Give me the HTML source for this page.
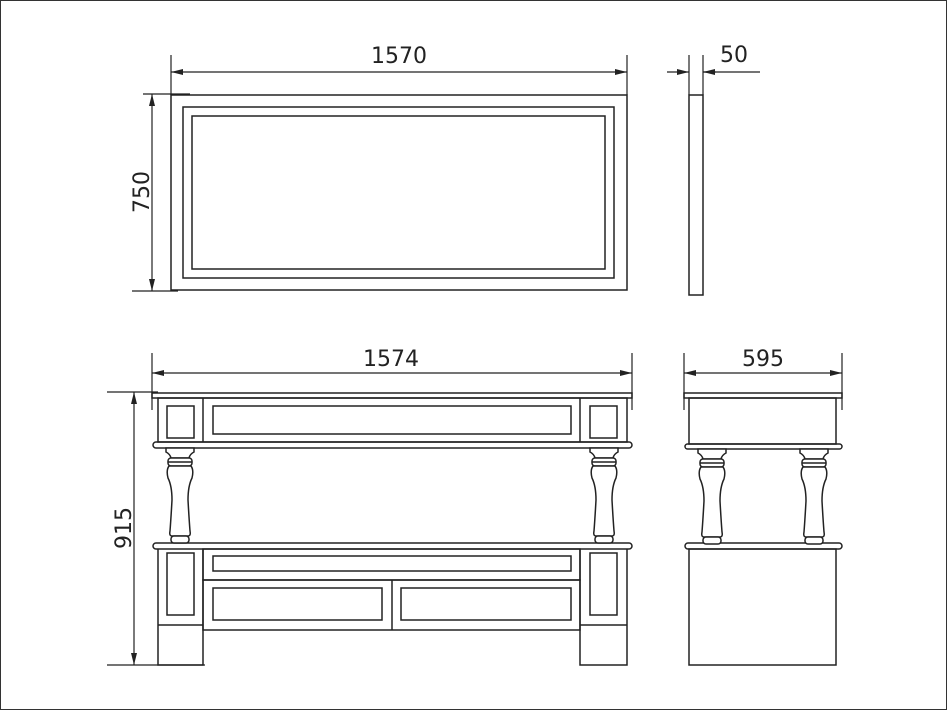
<!DOCTYPE html>
<html><head><meta charset="utf-8"><style>
html,body{margin:0;padding:0;background:#fff}
svg{display:block}
text{font-family:"DejaVu Sans","Liberation Sans",sans-serif;font-size:22px;fill:#222}
</style></head><body>
<svg width="947" height="710" viewBox="0 0 947 710" xmlns="http://www.w3.org/2000/svg">
<defs>
<marker id="a" markerWidth="12" markerHeight="6" refX="12" refY="3" orient="auto-start-reverse" markerUnits="userSpaceOnUse">
<path d="M0,0 L12,3 L0,6 Z" fill="#222"/></marker>
<g id="leg" fill="#fff" stroke="#222" stroke-width="1.5">
<path d="M-14,0 H14 V4 Q10,6 9,10 H-9 Q-10,6 -14,4 Z"/>
<rect x="-12" y="10" width="24" height="8" rx="3"/>
<line x1="-12" y1="14" x2="12" y2="14"/>
<path d="M-11,18 H11 Q14,22 12,30 Q8,38 8,52 Q9,70 10,83 Q11,88 8,88 H-8 Q-11,88 -10,83 Q-9,70 -8,52 Q-8,38 -12,30 Q-14,22 -11,18 Z"/>
<rect x="-9" y="88" width="18" height="7" rx="3"/>
</g>
</defs>
<rect x="0.5" y="0.5" width="946" height="709" fill="none" stroke="#333"/>
<g fill="none" stroke="#222" stroke-width="1.5">
<rect x="171" y="95" width="456" height="195"/>
<rect x="183" y="107" width="431" height="171"/>
<rect x="192" y="116" width="413" height="153"/>
<rect x="689" y="95" width="14" height="200"/>
<rect x="152" y="393" width="480" height="5"/>
<rect x="158" y="398" width="469" height="44"/>
<line x1="203" y1="398" x2="203" y2="442"/><line x1="580" y1="398" x2="580" y2="442"/>
<rect x="167" y="406" width="27" height="32"/>
<rect x="213" y="406" width="358" height="28"/>
<rect x="590" y="406" width="27" height="32"/>
<rect x="153" y="442" width="479" height="6" rx="3"/>
<rect x="153" y="543" width="479" height="6" rx="3"/>
<path d="M158,549 V665 H203 V549 M580,549 V665 H627 V549"/>
<line x1="158" y1="625" x2="203" y2="625"/><line x1="580" y1="625" x2="627" y2="625"/>
<rect x="167" y="553" width="27" height="62"/>
<rect x="590" y="553" width="27" height="62"/>
<rect x="203" y="549" width="377" height="31"/>
<rect x="213" y="556" width="358" height="15"/>
<rect x="203" y="580" width="377" height="50"/>
<line x1="392" y1="580" x2="392" y2="630"/>
<rect x="213" y="588" width="169" height="32"/>
<rect x="401" y="588" width="170" height="32"/>
<rect x="684" y="393" width="158" height="5"/>
<rect x="689" y="398" width="147" height="46"/>
<rect x="685" y="444" width="157" height="5" rx="2.5"/>
<rect x="685" y="543" width="157" height="6" rx="3"/>
<rect x="689" y="549" width="147" height="116"/>
</g>
<use href="#leg" x="180" y="448"/>
<use href="#leg" x="604" y="448"/>
<use href="#leg" x="712" y="449"/>
<use href="#leg" x="814" y="449"/>
<g stroke="#222" stroke-width="1.2" fill="none">
<line x1="171" y1="72" x2="627" y2="72" marker-start="url(#a)" marker-end="url(#a)"/>
<line x1="171" y1="55" x2="171" y2="95"/><line x1="627" y1="55" x2="627" y2="95"/>
<line x1="152" y1="94" x2="152" y2="291" marker-start="url(#a)" marker-end="url(#a)"/>
<line x1="143" y1="94" x2="190" y2="94"/><line x1="132" y1="291" x2="178" y2="291"/>
<line x1="667" y1="72" x2="689" y2="72" marker-end="url(#a)"/>
<line x1="703" y1="72" x2="760" y2="72"/>
<line x1="716" y1="72" x2="703" y2="72" marker-end="url(#a)"/>
<line x1="689" y1="55" x2="689" y2="95"/><line x1="703" y1="55" x2="703" y2="95"/>
<line x1="152" y1="373" x2="632" y2="373" marker-start="url(#a)" marker-end="url(#a)"/>
<line x1="152" y1="353" x2="152" y2="410"/><line x1="632" y1="353" x2="632" y2="410"/>
<line x1="134" y1="392" x2="134" y2="665" marker-start="url(#a)" marker-end="url(#a)"/>
<line x1="107" y1="392" x2="158" y2="392"/><line x1="107" y1="665" x2="205" y2="665"/>
<line x1="684" y1="373" x2="842" y2="373" marker-start="url(#a)" marker-end="url(#a)"/>
<line x1="684" y1="353" x2="684" y2="410"/><line x1="842" y1="353" x2="842" y2="410"/>
</g>
<text x="399" y="63" text-anchor="middle">1570</text>
<text x="734" y="62" text-anchor="middle">50</text>
<text x="391" y="366" text-anchor="middle">1574</text>
<text x="763" y="366" text-anchor="middle">595</text>
<text transform="translate(149,192) rotate(-90)" text-anchor="middle">750</text>
<text transform="translate(131,528) rotate(-90)" text-anchor="middle">915</text>
</svg>
</body></html>
